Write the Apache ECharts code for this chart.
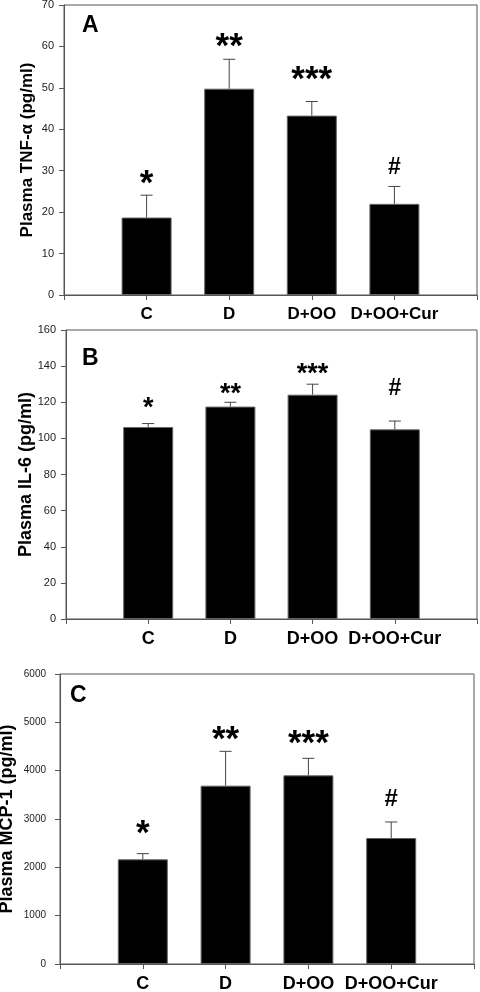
<!DOCTYPE html>
<html>
<head>
<meta charset="utf-8">
<script src="https://cdn.jsdelivr.net/npm/echarts@6/dist/echarts.min.js"></script>
<style>
html,body{margin:0;padding:0;background:#fff;}
#chart{width:480px;height:992px;}
</style>
</head>
<body>
<div id="chart"></div>
<script>
// ---- data ----
var categories = ['C', 'D', 'D+OO', 'D+OO+Cur'];
var annotations = ['*', '**', '***', '#'];

var tnfMean = [18.7, 49.8, 43.3, 22.0];
var tnfErr  = [5.4, 7.1, 3.4, 4.2];
var tnfTicks = [0, 10, 20, 30, 40, 50, 60, 70];

var il6Mean = [106.3, 117.6, 124.2, 105.0];
var il6Err  = [1.9, 2.4, 5.8, 4.6];
var il6Ticks = [0, 20, 40, 60, 80, 100, 120, 140, 160];

var mcpMean = [2166, 3690, 3903, 2607];
var mcpErr  = [117, 710, 352, 331];
var mcpTicks = [0, 1000, 2000, 3000, 4000, 5000, 6000];

// ---- layout / style ----
var FONT = 'Liberation Sans, Arial, Helvetica, sans-serif';
var AXIS_COLOR = '#555';
var panels = [
  {letter: 'A', title: 'Plasma TNF-\u03b1 (pg/ml)', mean: tnfMean, err: tnfErr, ticks: tnfTicks,
   grid: {left: 64, right: 3, top: 5, height: 290}, nameGap: 28, nameSize: 17, xSize: 17, ySize: 11, yMargin: 10,
   starSize: 35, hashSize: 23, lift: [8, 9, 18, 10], letterPos: [82, 14]},
  {letter: 'B', title: 'Plasma IL-6 (pg/ml)', mean: il6Mean, err: il6Err, ticks: il6Ticks,
   grid: {left: 66, right: 3, top: 330, height: 289}, nameGap: 31, nameSize: 18, xSize: 18, ySize: 11, yMargin: 10,
   starSize: 27, hashSize: 23, lift: [13, 6, 7, 24], letterPos: [82, 347]},
  {letter: 'C', title: 'Plasma MCP-1 (pg/ml)', mean: mcpMean, err: mcpErr, ticks: mcpTicks,
   grid: {left: 60, right: 6, top: 674, height: 290}, nameGap: 44, nameSize: 18, xSize: 18, ySize: 10, yMargin: 14,
   starSize: 35, hashSize: 24, lift: [17, 8, 11, 14], letterPos: [70, 684]}
];

var axisCats = [''].concat(categories).concat(['']);

var option = {
  animation: false,
  backgroundColor: '#fff',
  grid: [], xAxis: [], yAxis: [], series: [], graphic: []
};

panels.forEach(function (p, i) {
  var g = Object.assign({show: true, borderColor: AXIS_COLOR, borderWidth: 1, backgroundColor: 'transparent',
    containLabel: false, outerBoundsMode: 'none'}, p.grid);
  option.grid.push(g);
  option.xAxis.push({
    type: 'category', gridIndex: i, data: axisCats, boundaryGap: false,
    axisLine: {lineStyle: {color: AXIS_COLOR, width: 1}},
    axisTick: {show: true, length: 5, interval: 0, lineStyle: {color: AXIS_COLOR}},
    axisLabel: {interval: 0, color: '#000', fontFamily: FONT, fontWeight: 'bold', fontSize: p.xSize, margin: 11},
    splitLine: {show: false}
  });
  var maxV = p.ticks[p.ticks.length - 1];
  option.yAxis.push({
    type: 'value', gridIndex: i, min: p.ticks[0], max: maxV, interval: p.ticks[1] - p.ticks[0],
    name: p.title, nameLocation: 'middle', nameRotate: 90, nameGap: p.nameGap, nameMoveOverlap: false,
    nameTextStyle: {fontFamily: FONT, fontWeight: 'bold', fontSize: p.nameSize, color: '#000'},
    axisLine: {show: true, lineStyle: {color: AXIS_COLOR, width: 1}},
    axisTick: {show: true, length: 5, lineStyle: {color: AXIS_COLOR}},
    axisLabel: {color: '#222', fontFamily: FONT, fontSize: p.ySize, margin: p.yMargin,
      formatter: function (v) { return String(v); }},
    splitLine: {show: false}
  });
  option.series.push({
    type: 'bar', xAxisIndex: i, yAxisIndex: i, barWidth: 50,
    data: ['-'].concat(p.mean).concat(['-']),
    itemStyle: {color: '#000', borderColor: '#666', borderWidth: 1},
    silent: true
  });
  var errData = p.mean.map(function (m, k) { return [k + 1, m, p.err[k], k]; });
  option.series.push({
    type: 'custom', xAxisIndex: i, yAxisIndex: i, data: errData, silent: true, z: 5,
    renderItem: function (params, api) {
      var idx = api.value(0), m = api.value(1), e = api.value(2), k = api.value(3);
      var base = api.coord([idx, m]);
      var top = api.coord([idx, m + e]);
      var ann = annotations[k];
      var isHash = ann === '#';
      return {
        type: 'group',
        children: [
          {type: 'line', shape: {x1: base[0], y1: base[1], x2: top[0], y2: top[1]}, style: {stroke: '#444', lineWidth: 1}},
          {type: 'line', shape: {x1: top[0] - 6, y1: top[1], x2: top[0] + 6, y2: top[1]}, style: {stroke: '#444', lineWidth: 1}},
          {type: 'text', style: {
            text: ann, x: top[0], y: top[1] - p.lift[k] + (isHash ? 3 : p.starSize * 0.42),
            align: 'center', verticalAlign: 'bottom', fill: '#000',
            fontFamily: FONT, fontWeight: 'bold', fontSize: isHash ? p.hashSize : p.starSize
          }}
        ]
      };
    }
  });
  option.graphic.push({
    type: 'text', left: p.letterPos[0], top: p.letterPos[1],
    style: {text: p.letter, fill: '#000', font: 'bold 23px ' + FONT}
  });
});

var chart = echarts.init(document.getElementById('chart'), null, {renderer: 'canvas'});
chart.setOption(option);
</script>
</body>
</html>
